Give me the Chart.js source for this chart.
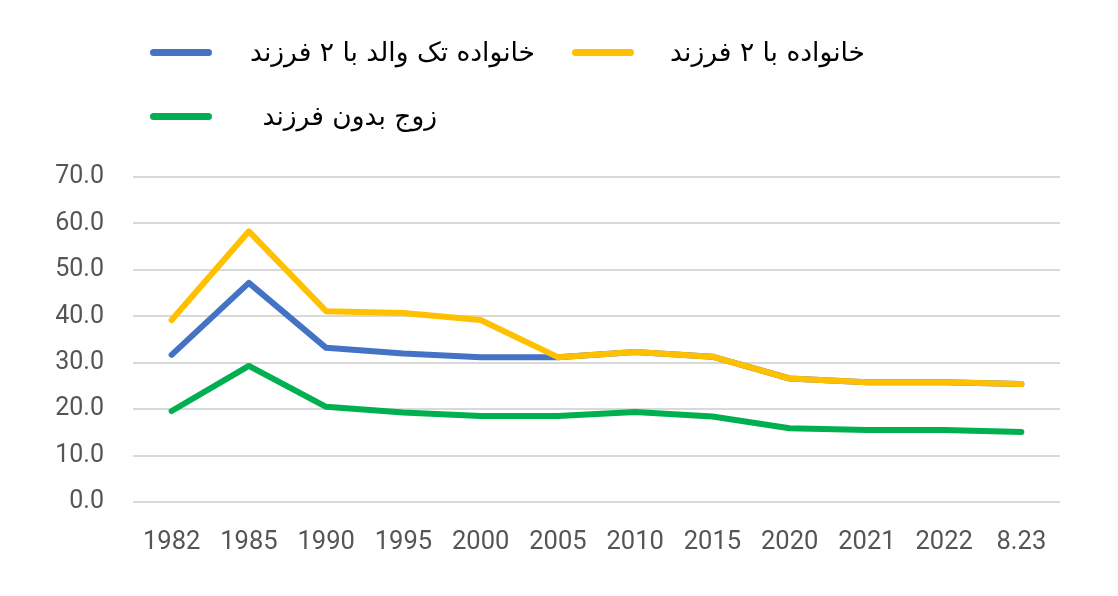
<!DOCTYPE html>
<html>
<head>
<meta charset="utf-8">
<script src="https://cdn.jsdelivr.net/npm/chart.js@4/dist/chart.umd.min.js"></script>
<style>
  html, body { margin: 0; padding: 0; background: #ffffff; }
  #wrap { position: relative; width: 1118px; height: 596px; overflow: hidden; }
  #c { position: absolute; left: 0; top: 0; }
  .lg-line { position: absolute; height: 7px; border-radius: 4px; }
  .lg-text { position: absolute; direction: rtl; white-space: nowrap; color: #000;
             font-family: "DejaVu Sans", sans-serif; font-size: 26.5px; line-height: 32px; }
</style>
</head>
<body>
<div id="wrap">
  <canvas id="c" width="1118" height="596"></canvas>
</div>
<script>
// ---- data ----
const categories = ["1982", "1985", "1990", "1995", "2000", "2005", "2010", "2015", "2020", "2021", "2022", "8.23"];
const seriesNames = ["خانواده تک والد با ۲ فرزند", "خانواده با ۲ فرزند", "زوج بدون فرزند"];
const singleParentTwoChildren = [31.7, 47.2, 33.2, 32.0, 31.2, 31.2, 32.3, 31.3, 26.6, 25.8, 25.8, 25.4];
const familyTwoChildren      = [39.2, 58.3, 41.1, 40.7, 39.2, 31.2, 32.3, 31.3, 26.6, 25.8, 25.8, 25.4];
const coupleNoChildren       = [19.6, 29.3, 20.5, 19.3, 18.5, 18.5, 19.4, 18.4, 15.9, 15.5, 15.5, 15.1];
const yTicks = [0, 10, 20, 30, 40, 50, 60, 70];

const colors = ["#4472C4", "#FFC000", "#00B050"];

// ---- legend (HTML text) ----
const wrap = document.getElementById('wrap');
const legendItems = [
  { lineLeft: 150, top: 52, textRight: 535 },
  { lineLeft: 572, top: 52, textRight: 865 },
  { lineLeft: 150, top: 116, textRight: 437 }
];
legendItems.forEach((it, i) => {
  const ln = document.createElement('div');
  ln.className = 'lg-line';
  ln.style.left = it.lineLeft + 'px';
  ln.style.top = (it.top - 3.5) + 'px';
  ln.style.width = '62px';
  ln.style.background = colors[i];
  wrap.appendChild(ln);
  const tx = document.createElement('div');
  tx.className = 'lg-text';
  tx.textContent = seriesNames[i];
  tx.style.right = (1118 - it.textRight) + 'px';
  tx.style.top = (it.top - 16) + 'px';
  wrap.appendChild(tx);
});

// ---- chart ----
const yFont = { family: "Roboto, 'Liberation Sans', sans-serif", size: 25 };
const xFont = { family: "Roboto, 'Liberation Sans', sans-serif", size: 25.5 };
const mk = (label, data, color, order) => ({
  label, data, borderColor: color, backgroundColor: color,
  borderWidth: 6, pointRadius: 0, pointHoverRadius: 0, tension: 0,
  borderCapStyle: 'round', borderJoinStyle: 'round', fill: false, order
});

new Chart(document.getElementById('c'), {
  type: 'line',
  data: {
    labels: categories,
    datasets: [
      mk(seriesNames[0], singleParentTwoChildren, colors[0], 1),
      mk(seriesNames[1], familyTwoChildren, colors[1], 0),
      mk(seriesNames[2], coupleNoChildren, colors[2], 2)
    ]
  },
  options: {
    responsive: false,
    animation: false,
    layout: { padding: { left: 56, right: 58, top: 177, bottom: 42 } },
    plugins: { legend: { display: false }, tooltip: { enabled: false } },
    scales: {
      x: {
        offset: true,
        grid: { display: false, drawTicks: false },
        border: { display: false },
        ticks: { font: xFont, color: '#555555', padding: 25, maxRotation: 0, autoSkip: false },
        afterFit: (axis) => { axis.height = 52; axis.paddingLeft = 0; axis.paddingRight = 0; }
      },
      y: {
        min: 0, max: 70,
        afterBuildTicks: (axis) => { axis.ticks = yTicks.map(v => ({ value: v })); },
        grid: { color: '#d9d9d9', lineWidth: 2, drawTicks: false },
        border: { display: false },
        ticks: { font: yFont, color: '#555555', padding: 29, callback: (v) => Number(v).toFixed(1) },
        afterFit: (axis) => { axis.width = 77; axis.paddingTop = 0; axis.paddingBottom = 0; }
      }
    }
  }
});
</script>
</body>
</html>
